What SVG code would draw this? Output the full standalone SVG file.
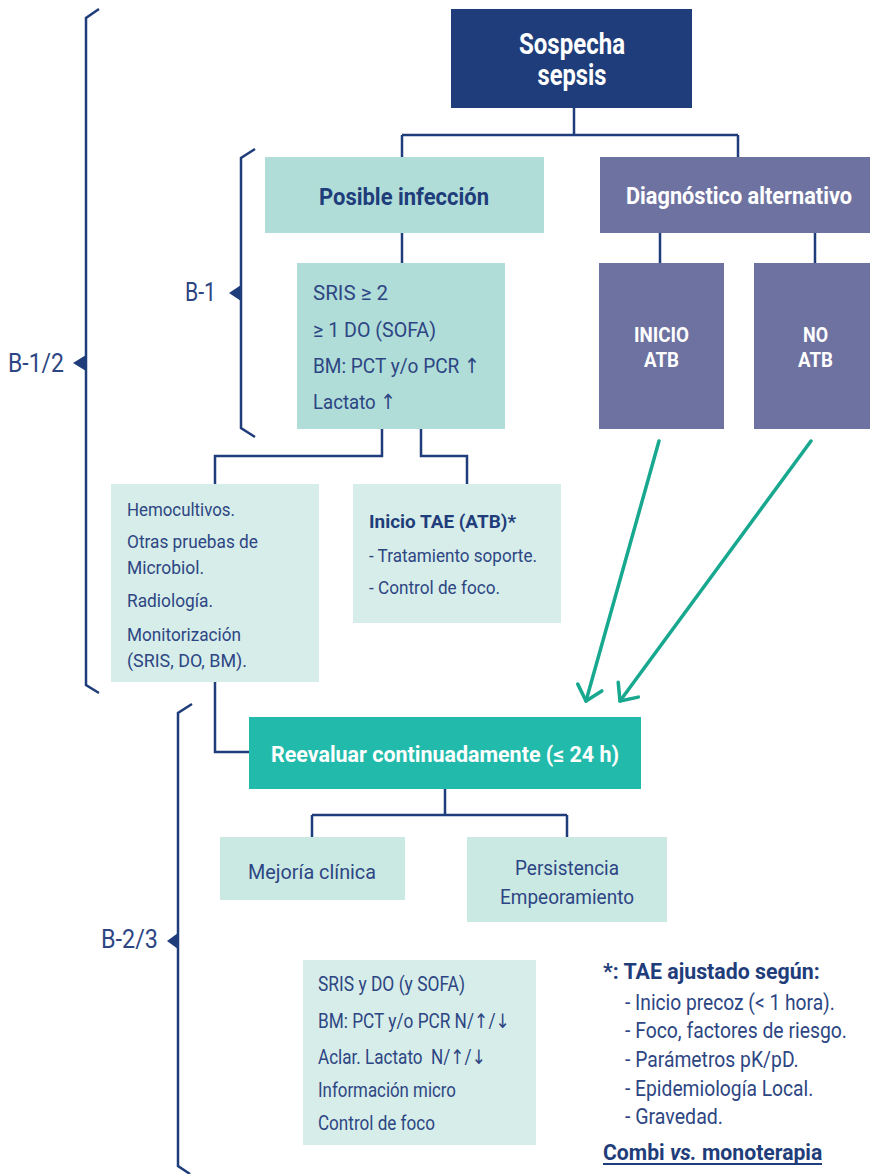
<svg xmlns="http://www.w3.org/2000/svg" width="870" height="1174" viewBox="0 0 870 1174">
<defs>
<style>
.t{font-family:Roboto,"Liberation Sans",sans-serif;}
.ta{font-family:Roboto,"DejaVu Sans",sans-serif;}
.b{font-weight:bold;}
.w{fill:#ffffff;}
.n{fill:#1f3d7a;}
.r{fill:#2d4683;}
.conn{fill:none;stroke:#1f3d7a;stroke-width:2.5;}
.brk{fill:none;stroke:#1f3d7a;stroke-width:2.5;}
.arr{fill:none;stroke:#17a88f;stroke-width:3.5;stroke-linecap:round;}
</style>
<marker id="head" markerUnits="userSpaceOnUse" orient="auto" markerWidth="40" markerHeight="40" refX="0" refY="0" viewBox="-20 -20 40 40" overflow="visible">
<path d="M-14,-12.5 L0,0 L-14,12.5" fill="none" stroke="#17a88f" stroke-width="3.5" stroke-linecap="round" stroke-linejoin="round"/>
</marker>
</defs>
<rect width="870" height="1174" fill="#ffffff"/>

<g id="connectors">
<path class="conn" d="M574,108 V135 M402,135 H738 M402,135 V157 M738,135 V157"/>
<path class="conn" d="M402,233 V263"/>
<path class="conn" d="M660,233 V263 M815,233 V263"/>
<path class="conn" d="M382,429 V456 H215 V484 M421,429 V456 H467 V484"/>
<path class="conn" d="M215,682 V752 H249"/>
<path class="conn" d="M445,789 V815 M312,815 H567 M312,815 V837 M567,815 V837"/>
<line class="arr" x1="659" y1="441" x2="586" y2="701" marker-end="url(#head)"/>
<line class="arr" x1="811" y1="441" x2="620" y2="701" marker-end="url(#head)"/>
</g>

<g id="brackets">
<path class="brk" d="M99,9 L86,18 L86,685 L99,693"/>
<polygon points="73,363 86,355 86,371" fill="#1f3d7a"/>
<text class="t r" x="64" y="372" font-size="25" text-anchor="end" textLength="56" lengthAdjust="spacingAndGlyphs">B-1/2</text>
<path class="brk" d="M255,149 L241,158 L241,428 L255,437"/>
<polygon points="229,293 241,285 241,301" fill="#1f3d7a"/>
<text class="t r" x="216" y="301" font-size="25" text-anchor="end" textLength="31" lengthAdjust="spacingAndGlyphs">B-1</text>
<path class="brk" d="M192,704 L178,713 L178,1166 L190,1174"/>
<polygon points="167,941 178,933 178,949" fill="#1f3d7a"/>
<text class="t r" x="158" y="948" font-size="25" text-anchor="end" textLength="57" lengthAdjust="spacingAndGlyphs">B-2/3</text>
</g>

<g id="sospecha">
<rect x="451" y="9" width="241" height="99" fill="#1f3d7a"/>
<text class="t b w" x="572" y="54" font-size="29" text-anchor="middle" textLength="106" lengthAdjust="spacingAndGlyphs">Sospecha</text>
<text class="t b w" x="572" y="85" font-size="29" text-anchor="middle" textLength="69" lengthAdjust="spacingAndGlyphs">sepsis</text>
</g>

<g id="posible">
<rect x="265" y="157" width="279" height="76" fill="#b0ddd8"/>
<text class="t b n" x="404" y="205" font-size="23" text-anchor="middle" textLength="170" lengthAdjust="spacingAndGlyphs">Posible infección</text>
</g>

<g id="diagnostico">
<rect x="600" y="157" width="270" height="76" fill="#6e72a0"/>
<text class="t b w" x="739" y="204" font-size="23" text-anchor="middle" textLength="226" lengthAdjust="spacingAndGlyphs">Diagnóstico alternativo</text>
</g>

<g id="criterios">
<rect x="297" y="263" width="208" height="166" fill="#b0ddd8"/>
<text class="t r" x="313" y="300" font-size="21" textLength="75" lengthAdjust="spacingAndGlyphs">SRIS ≥ 2</text>
<text class="t r" x="313" y="337" font-size="21" textLength="123" lengthAdjust="spacingAndGlyphs">≥ 1 DO (SOFA)</text>
<text class="ta r" x="313" y="373" font-size="21" textLength="167" lengthAdjust="spacingAndGlyphs">BM: PCT y/o PCR ↑</text>
<text class="ta r" x="313" y="409" font-size="21" textLength="83" lengthAdjust="spacingAndGlyphs">Lactato ↑</text>
</g>

<g id="inicio-atb">
<rect x="599" y="263" width="125" height="166" fill="#6e72a0"/>
<text class="t b w" x="661.5" y="342" font-size="20" text-anchor="middle" textLength="55" lengthAdjust="spacingAndGlyphs">INICIO</text>
<text class="t b w" x="661.5" y="367" font-size="20" text-anchor="middle" textLength="35" lengthAdjust="spacingAndGlyphs">ATB</text>
</g>

<g id="no-atb">
<rect x="754" y="263" width="116" height="166" fill="#6e72a0"/>
<text class="t b w" x="815.5" y="342" font-size="20" text-anchor="middle" textLength="25" lengthAdjust="spacingAndGlyphs">NO</text>
<text class="t b w" x="815.5" y="367" font-size="20" text-anchor="middle" textLength="35" lengthAdjust="spacingAndGlyphs">ATB</text>
</g>

<g id="hemocultivos">
<rect x="111" y="484" width="208" height="198" fill="#d6ede9"/>
<text class="t r" x="127" y="516" font-size="19" textLength="108" lengthAdjust="spacingAndGlyphs">Hemocultivos.</text>
<text class="t r" x="127" y="548" font-size="19" textLength="131" lengthAdjust="spacingAndGlyphs">Otras pruebas de</text>
<text class="t r" x="127" y="574" font-size="19" textLength="77" lengthAdjust="spacingAndGlyphs">Microbiol.</text>
<text class="t r" x="127" y="607" font-size="19" textLength="86" lengthAdjust="spacingAndGlyphs">Radiología.</text>
<text class="t r" x="127" y="641" font-size="19" textLength="114" lengthAdjust="spacingAndGlyphs">Monitorización</text>
<text class="t r" x="127" y="667" font-size="19" textLength="120" lengthAdjust="spacingAndGlyphs">(SRIS, DO, BM).</text>
</g>

<g id="inicio-tae">
<rect x="353" y="484" width="208" height="139" fill="#d6ede9"/>
<text class="t b n" x="369" y="528" font-size="19" textLength="147" lengthAdjust="spacingAndGlyphs">Inicio TAE (ATB)*</text>
<text class="t r" x="369" y="562" font-size="19" textLength="168" lengthAdjust="spacingAndGlyphs">- Tratamiento soporte.</text>
<text class="t r" x="369" y="594" font-size="19" textLength="131" lengthAdjust="spacingAndGlyphs">- Control de foco.</text>
</g>

<g id="reevaluar">
<rect x="249" y="717" width="392" height="72" fill="#22bbab"/>
<text class="t b w" x="445" y="762" font-size="22" text-anchor="middle" textLength="348" lengthAdjust="spacingAndGlyphs">Reevaluar continuadamente (≤ 24 h)</text>
</g>

<g id="mejoria">
<rect x="220" y="837" width="185" height="63" fill="#cbe9e3"/>
<text class="t r" x="312" y="879" font-size="21" text-anchor="middle" textLength="128" lengthAdjust="spacingAndGlyphs">Mejoría clínica</text>
</g>

<g id="persistencia">
<rect x="467" y="837" width="200" height="85" fill="#cbe9e3"/>
<text class="t r" x="567" y="875" font-size="21" text-anchor="middle" textLength="104" lengthAdjust="spacingAndGlyphs">Persistencia</text>
<text class="t r" x="567" y="904" font-size="21" text-anchor="middle" textLength="134" lengthAdjust="spacingAndGlyphs">Empeoramiento</text>
</g>

<g id="seguimiento">
<rect x="303" y="960" width="233" height="185" fill="#d6ede9"/>
<text class="t r" x="318" y="991" font-size="20" textLength="147" lengthAdjust="spacingAndGlyphs">SRIS y DO (y SOFA)</text>
<text class="ta r" x="318" y="1028" font-size="20" textLength="192" lengthAdjust="spacingAndGlyphs">BM: PCT y/o PCR N/↑/↓</text>
<text class="ta r" x="318" y="1064" font-size="20" textLength="168" lengthAdjust="spacingAndGlyphs">Aclar. Lactato&#160; N/↑/↓</text>
<text class="t r" x="318" y="1097" font-size="20" textLength="138" lengthAdjust="spacingAndGlyphs">Información micro</text>
<text class="t r" x="318" y="1130" font-size="20" textLength="117" lengthAdjust="spacingAndGlyphs">Control de foco</text>
</g>

<g id="nota">
<g transform="translate(603 0) scale(0.86 1)">
<text class="t b n" x="0" y="979" font-size="22" textLength="252" lengthAdjust="spacingAndGlyphs">*: TAE ajustado según:</text>
<text class="t b n" x="0" y="1160" font-size="22" textLength="255" lengthAdjust="spacingAndGlyphs">Combi <tspan font-style="italic">vs.</tspan> monoterapia</text>
</g>
<g transform="translate(625 0) scale(0.86 1)">
<text class="t r" x="0" y="1010" font-size="22" textLength="244" lengthAdjust="spacingAndGlyphs">- Inicio precoz (&lt; 1 hora).</text>
<text class="t r" x="0" y="1038" font-size="22" textLength="258" lengthAdjust="spacingAndGlyphs">- Foco, factores de riesgo.</text>
<text class="t r" x="0" y="1067" font-size="22" textLength="202" lengthAdjust="spacingAndGlyphs">- Parámetros pK/pD.</text>
<text class="t r" x="0" y="1096" font-size="22" textLength="219" lengthAdjust="spacingAndGlyphs">- Epidemiología Local.</text>
<text class="t r" x="0" y="1124" font-size="22" textLength="114" lengthAdjust="spacingAndGlyphs">- Gravedad.</text>
</g>
<line x1="603" y1="1164" x2="822" y2="1164" stroke="#1f3d7a" stroke-width="2"/>
</g>
</svg>
